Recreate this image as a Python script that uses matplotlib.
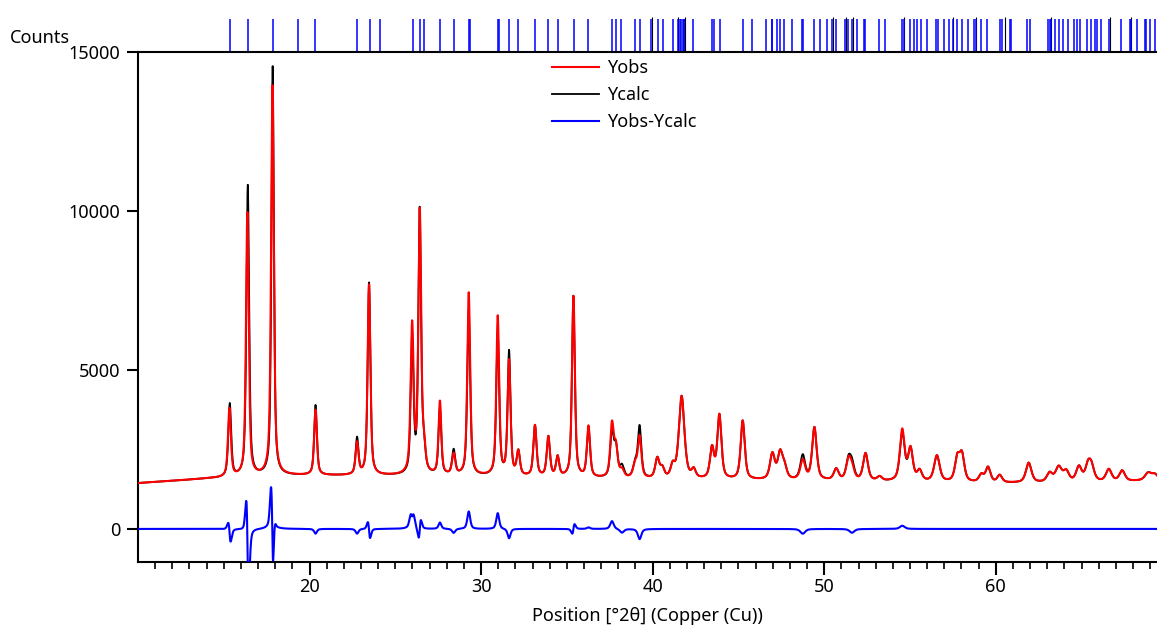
import matplotlib
matplotlib.use('Agg')
import matplotlib.pyplot as plt
import matplotlib.transforms as mtransforms
import numpy as np

plt.rcParams['font.family'] = ['Noto Sans', 'DejaVu Sans']

# peak list (position in deg 2theta, net height above background)
peak_pos = [15.35, 16.40, 17.85, 20.35, 22.77, 23.47, 25.98, 26.42, 26.66, 27.60,
            28.40, 29.28, 30.97, 31.63, 32.17, 33.14, 33.92, 34.46, 35.38, 36.26,
            37.63, 37.86, 38.21, 38.98, 39.24, 40.27, 40.56, 41.17, 41.69, 42.39,
            43.46, 43.89, 45.25, 46.98, 47.43, 47.68, 48.75, 49.43, 50.70, 51.42,
            51.62, 52.41, 53.23, 54.55, 55.03, 55.56, 56.57, 57.76, 58.03, 59.16,
            59.55, 60.23, 61.92, 63.14, 63.67, 64.11, 64.85, 65.38, 65.58, 66.59,
            67.37, 68.88, 69.27]
calc_height = [2300, 9150, 12850, 2200, 1150, 6050, 4250, 8250, 700, 2100,
               780, 5200, 4500, 3900, 750, 1600, 1250, 620, 5700, 1550,
               1400, 900, 350, 420, 1600, 620, 300, 370, 2600, 260,
               950, 2000, 1850, 800, 800, 370, 760, 1650, 350, 620,
               460, 860, 130, 1500, 1000, 320, 820, 720, 820, 230,
               470, 230, 620, 280, 470, 320, 470, 470, 420, 380,
               330, 230, 180]
obs_height = [2150, 8300, 12250, 2050, 1000, 6000, 4650, 8200, 700, 2300,
              650, 5750, 5000, 3600, 750, 1600, 1250, 620, 5700, 1600,
              1650, 900, 230, 420, 1280, 620, 300, 370, 2600, 260,
              950, 2000, 1850, 800, 800, 370, 610, 1650, 350, 620,
              340, 860, 130, 1600, 1000, 320, 820, 720, 820, 230,
              470, 230, 620, 280, 470, 320, 470, 470, 420, 380,
              330, 230, 180]
peak_fwhm = [0.20, 0.19, 0.17, 0.19, 0.20, 0.19, 0.19, 0.19, 0.22, 0.19,
             0.22, 0.20, 0.20, 0.20, 0.22, 0.22, 0.22, 0.22, 0.20, 0.22,
             0.24, 0.24, 0.28, 0.28, 0.24, 0.28, 0.28, 0.28, 0.38, 0.28,
             0.28, 0.28, 0.28, 0.33, 0.33, 0.33, 0.33, 0.31, 0.33, 0.33,
             0.33, 0.33, 0.33, 0.33, 0.33, 0.33, 0.38, 0.33, 0.33, 0.33,
             0.33, 0.33, 0.38, 0.38, 0.44, 0.38, 0.38, 0.38, 0.38, 0.38,
             0.38, 0.44, 0.44]

# peaks where the observed profile is shifted / broader than the calculated one
misfit_pos = [15.35, 16.40, 17.85, 23.47, 25.98, 26.42, 35.38]
misfit_shift = [-0.02, -0.024, -0.01, -0.006, 0.0, 0.005, 0.004]
misfit_wscale = [1.0, 1.0, 1.12, 1.0, 1.1, 1.0, 1.0]

# background points
bg_x = [10, 12, 14, 16, 18, 20, 25, 30, 35, 40, 45, 50, 55, 60, 65, 69.4]
bg_y = [1440, 1510, 1580, 1620, 1680, 1680, 1670, 1650, 1600, 1550, 1530, 1510, 1470, 1440, 1450, 1520]

# reflection markers above the plot
hkl_pos = [15.36, 16.39, 17.87, 19.31, 20.34, 22.79, 23.51, 24.13, 26.02, 26.46,
           26.66, 27.61, 28.43, 29.30, 29.34, 31.00, 31.03, 31.60, 32.16, 33.14,
           33.91, 34.46, 35.39, 36.25, 37.63, 37.84, 38.17, 38.99, 39.28, 39.92,
           40.31, 40.58, 41.19, 41.46, 41.62, 41.68, 41.75, 41.80, 41.85, 42.37,
           43.44, 43.60, 43.91, 45.27, 45.82, 46.58, 46.93, 46.98, 47.22, 47.41,
           47.68, 48.13, 48.72, 48.79, 49.39, 49.77, 50.14, 50.48, 50.70, 51.22,
           51.40, 51.63, 51.94, 52.31, 52.39, 53.21, 53.54, 54.51, 54.65, 55.02,
           55.25, 55.41, 55.66, 55.97, 56.51, 56.63, 56.98, 57.25, 57.49, 57.72,
           58.03, 58.38, 58.75, 58.85, 59.16, 59.47, 60.23, 60.36, 60.81, 60.91,
           61.84, 61.98, 63.05, 63.14, 63.24, 63.44, 63.67, 63.92, 64.19, 64.54,
           64.72, 64.90, 65.34, 65.58, 65.77, 65.93, 66.14, 66.59, 67.33, 67.81,
           67.87, 68.26, 68.71, 68.76, 68.99, 69.27]
hkl2_pos = [39.94, 41.46, 41.87, 50.50, 51.28, 51.67, 54.68, 57.50, 58.87, 60.53,
            63.24, 66.65, 67.91]


def pseudo_voigt(x, x0, h, w, eta=0.6):
    d = (x - x0) / w
    return h * (eta / (1 + 4 * d ** 2) + (1 - eta) * np.exp(-4 * np.log(2) * d ** 2))


def make_profiles(x):
    bg = np.interp(x, bg_x, bg_y)
    ycalc = bg.copy()
    yobs = bg.copy()
    for p, hc, ho, w in zip(peak_pos, calc_height, obs_height, peak_fwhm):
        shift, ws = 0.0, 1.0
        if p in misfit_pos:
            i = misfit_pos.index(p)
            shift, ws = misfit_shift[i], misfit_wscale[i]
        ycalc += pseudo_voigt(x, p, hc, w)
        yobs += pseudo_voigt(x, p + shift, ho, w * ws)
    return yobs, ycalc


x = np.arange(10.0, 69.45, 0.01)
yobs, ycalc = make_profiles(x)
ydiff = yobs - ycalc

W, H = 1157, 630
fig = plt.figure(figsize=(W / 100, H / 100), dpi=100)
ax = fig.add_axes([138 / W, 68 / H, 1 - 138 / W, 510 / H])

ax.plot(x, ycalc, color='black', lw=1.3, label='Ycalc', zorder=2)
ax.plot(x, yobs, color='#FF0000', lw=1.5, label='Yobs', zorder=3)
ax.plot(x, ydiff, color='#0000FF', lw=1.5, label='Yobs-Ycalc', zorder=3)

ax.set_xlim(10, 69.4)
ax.set_ylim(-1040, 15000)

# reflection positions drawn above the frame
trans = mtransforms.blended_transform_factory(ax.transData, ax.transAxes)
ax.vlines(hkl2_pos, 1.0, 1.069, colors='black', lw=0.8, transform=trans, clip_on=False)
ax.vlines(hkl_pos, 1.0, 1.0653, colors='#0000FF', lw=1.1, transform=trans, clip_on=False)

ax.spines['right'].set_visible(False)
for s in ['left', 'bottom', 'top']:
    ax.spines[s].set_linewidth(1.5)

ax.set_yticks([0, 5000, 10000, 15000])
ax.set_xticks([20, 30, 40, 50, 60])
ax.set_xticks([v for v in range(11, 70) if v % 10 != 0], minor=True)
ax.tick_params(axis='y', direction='out', length=8, width=1.5, labelsize=13, pad=4.5)
ax.tick_params(axis='x', which='major', direction='out', length=9.5, width=1.5, labelsize=13, pad=2)
ax.tick_params(axis='x', which='minor', direction='out', length=5, width=1.2)

ax.set_xlabel('Position [°2θ] (Copper (Cu))', fontsize=13, labelpad=8)
fig.text(10 / W, 1 - 38 / H, 'Counts', fontsize=13, ha='left', va='center')

# legend order like the reference
handles, labels = ax.get_legend_handles_labels()
order = [1, 0, 2]
ax.legend([handles[i] for i in order], [labels[i] for i in order],
          loc='upper left', bbox_to_anchor=(552 / W, 1 - 59 / H), bbox_transform=fig.transFigure,
          frameon=False, fontsize=13, handlelength=2.6, handletextpad=0.45,
          labelspacing=0.5, borderpad=0, borderaxespad=0)

fig.savefig('out.png', dpi=100)
